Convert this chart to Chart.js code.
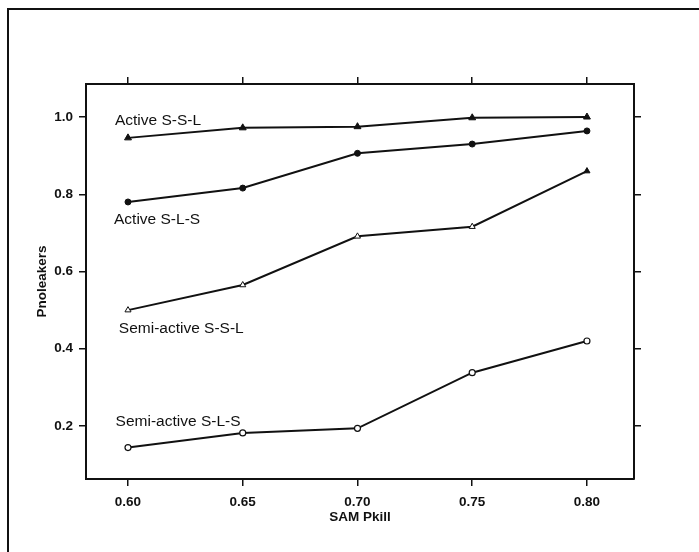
<!DOCTYPE html>
<html>
<head>
<meta charset="utf-8">
<script src="https://cdn.jsdelivr.net/npm/chart.js@4"></script>
<style>
  html, body { margin: 0; padding: 0; background: #fff; }
  .frame { position: absolute; left: 7px; top: 8px; width: 720px; height: 600px;
           border-left: 2px solid #111; border-top: 2px solid #111; }
  .wrap { position: absolute; left: 0; top: 0; width: 699px; height: 552px; }
</style>
</head>
<body>
<div class="frame"></div>
<div class="wrap"><canvas id="chart" width="699" height="552"></canvas></div>
<script>
const pkill = [0.60, 0.65, 0.70, 0.75, 0.80];
const activeSSL = [0.946, 0.972, 0.975, 0.998, 1.000];
const activeSLS = [0.780, 0.816, 0.906, 0.930, 0.964];
const semiSSL = [0.500, 0.565, 0.691, 0.716, 0.860];
const semiSLS = [0.144, 0.182, 0.194, 0.338, 0.420];
const xTicks = [0.60, 0.65, 0.70, 0.75, 0.80];
const yTicks = [0.2, 0.4, 0.6, 0.8, 1.0];

// series names and where they sit (data units)
const seriesNames = ['Active S-S-L', 'Active S-L-S', 'Semi-active S-S-L', 'Semi-active S-L-S'];
const nameAnchors = [[0.5943, 0.99], [0.5939, 0.735], [0.596, 0.452], [0.5946, 0.21]];

const toXY = ys => pkill.map((x, i) => ({ x: x, y: ys[i] }));

const ink = '#111';

const nameLabels = {
  id: 'nameLabels',
  afterDatasetsDraw(chart) {
    const ctx = chart.ctx;
    const xs = chart.scales.x, ys = chart.scales.y;
    ctx.save();
    ctx.fillStyle = ink;
    ctx.font = '15.5px "Liberation Sans", Arial, sans-serif';
    ctx.textAlign = 'left';
    ctx.textBaseline = 'middle';
    seriesNames.forEach((name, i) => {
      ctx.fillText(name, xs.getPixelForValue(nameAnchors[i][0]), ys.getPixelForValue(nameAnchors[i][1]));
    });
    ctx.restore();
  }
};

function sideAxis(position, ticksArr, size, min, max) {
  return {
    type: 'linear',
    position: position,
    min: min,
    max: max,
    afterBuildTicks: s => { s.ticks = ticksArr.map(v => ({ value: v })); },
    afterFit: s => {
      if (s.isHorizontal()) s.height = size; else s.width = size;
    },
    ticks: { display: false },
    grid: { drawOnChartArea: false, drawTicks: true, tickLength: 7, color: ink, lineWidth: 1.5 },
    border: { display: true, color: ink, width: 2 }
  };
}

const tickFont = { family: '"Liberation Sans", Arial, sans-serif', size: 13.5, weight: 'bold' };
const titleFont = { family: '"Liberation Sans", Arial, sans-serif', size: 13.5, weight: 'bold' };

const ctx = document.getElementById('chart').getContext('2d');
new Chart(ctx, {
  type: 'line',
  data: {
    datasets: [
      {
        label: seriesNames[0],
        data: toXY(activeSSL),
        borderColor: ink, backgroundColor: ink, borderWidth: 2,
        pointStyle: 'triangle', pointRadius: 4, pointBorderWidth: 1,
        pointBackgroundColor: ink
      },
      {
        label: seriesNames[1],
        data: toXY(activeSLS),
        borderColor: ink, backgroundColor: ink, borderWidth: 2,
        pointStyle: 'circle', pointRadius: 3, pointBorderWidth: 1,
        pointBackgroundColor: ink
      },
      {
        label: seriesNames[2],
        data: toXY(semiSSL),
        borderColor: ink, backgroundColor: '#fff', borderWidth: 2,
        pointStyle: 'triangle', pointRadius: 3.5, pointBorderWidth: 1,
        pointBackgroundColor: ['#fff', '#fff', '#fff', '#fff', ink]
      },
      {
        label: seriesNames[3],
        data: toXY(semiSLS),
        borderColor: ink, backgroundColor: '#fff', borderWidth: 2,
        pointStyle: 'circle', pointRadius: 3, pointBorderWidth: 1.2,
        pointBackgroundColor: '#fff'
      }
    ]
  },
  options: {
    responsive: false,
    animation: false,
    layout: { padding: 0 },
    plugins: {
      legend: { display: false },
      tooltip: { enabled: false }
    },
    scales: {
      x: {
        type: 'linear',
        position: 'bottom',
        min: 0.5817,
        max: 0.8205,
        afterBuildTicks: s => { s.ticks = xTicks.map(v => ({ value: v })); },
        afterFit: s => { s.height = 73; },
        ticks: { color: ink, font: tickFont, padding: 8, maxRotation: 0,
                 callback: v => v.toFixed(2) },
        grid: { drawOnChartArea: false, tickLength: 7, color: ink, lineWidth: 1.5 },
        border: { display: true, color: ink, width: 2 },
        title: { display: true, text: 'SAM Pkill', color: ink, font: titleFont,
                 padding: { top: 27, bottom: 27 } }
      },
      y: {
        type: 'linear',
        position: 'left',
        min: 0.0627,
        max: 1.0855,
        afterBuildTicks: s => { s.ticks = yTicks.map(v => ({ value: v })); },
        afterFit: s => { s.width = 86; },
        ticks: { color: ink, font: tickFont, padding: 6,
                 callback: v => v.toFixed(1) },
        grid: { drawOnChartArea: false, tickLength: 7, color: ink, lineWidth: 1.5 },
        border: { display: true, color: ink, width: 2 },
        title: { display: true, text: 'Pnoleakers', color: ink, font: titleFont,
                 padding: { top: 34, bottom: 34 } }
      },
      x2: sideAxis('top', xTicks, 84, 0.5817, 0.8205),
      y2: sideAxis('right', yTicks, 65, 0.0627, 1.0855)
    }
  },
  plugins: [nameLabels]
});
</script>
</body>
</html>
